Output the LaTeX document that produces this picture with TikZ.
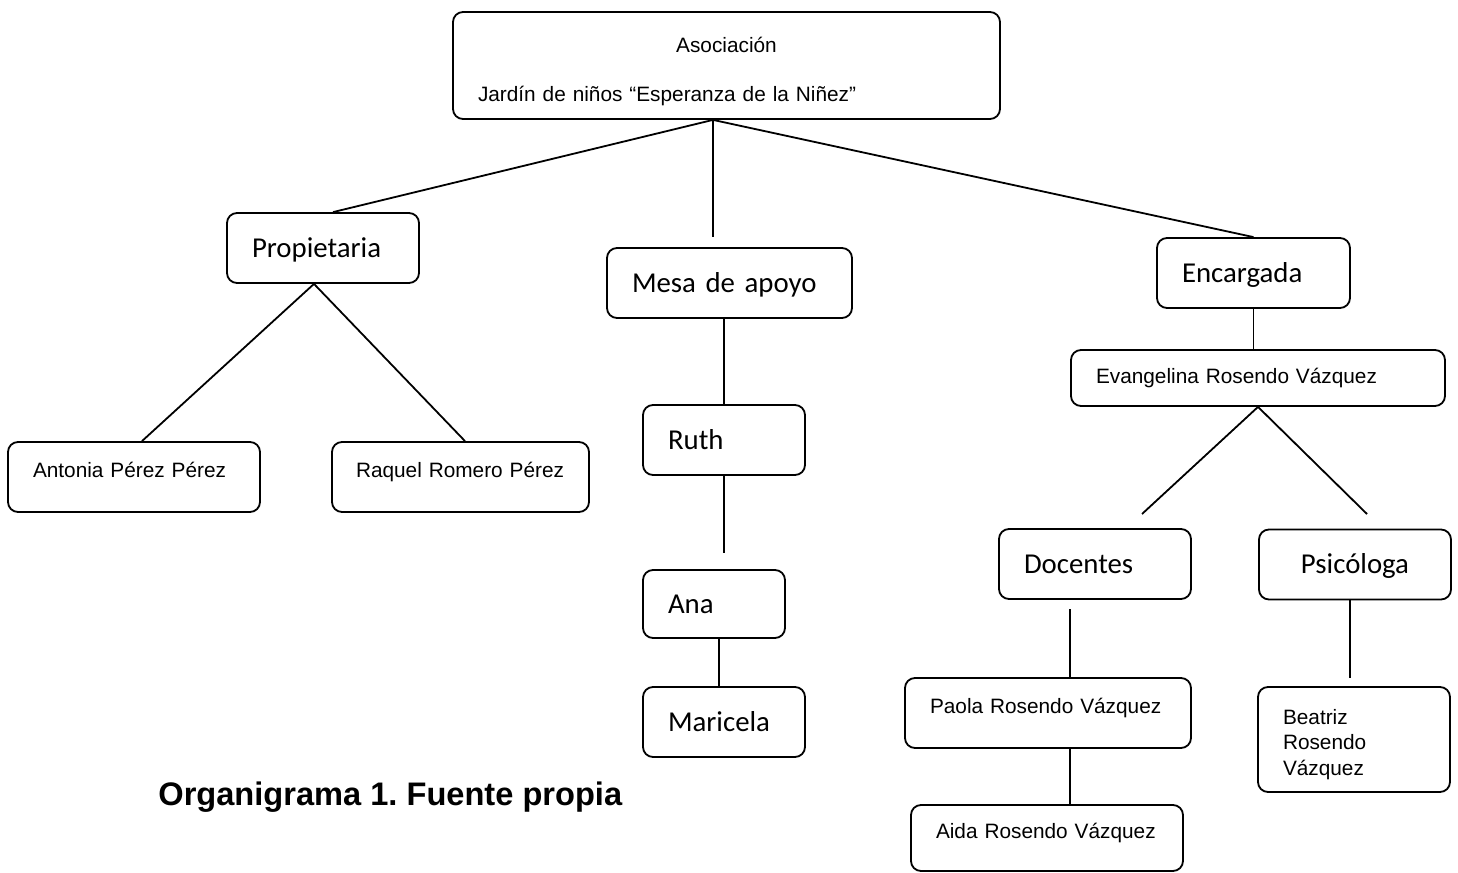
\documentclass[tikz,border=0pt]{standalone}
\usepackage{fontspec}
\setmainfont{Liberation Sans}
\newfontfamily\calibri{Carlito}
\usepackage{tikz}
\frenchspacing

\begin{document}
\begin{tikzpicture}[x=0.5pt,y=-0.5pt,
	cargo/.style={rectangle,draw,rounded corners=5pt,line width=0.9pt,align=left,inner xsep=12.5pt,minimum height=35pt,font=\calibri\fontsize{14.4}{17}\selectfont,text height=9.5pt,text depth=0.5pt},
	persona/.style={rectangle,draw,rounded corners=5pt,line width=0.9pt,align=left,inner xsep=12.5pt,minimum height=35pt,font=\fontsize{10.4}{12.8}\selectfont},
	alto/.style={text height=8pt,text depth=8pt},
	linea/.style={line width=0.9pt}]
	\useasboundingbox (0,0) rectangle (1458,873);
	\node[persona,text width=248.5pt,minimum height=53.5pt] (asoc) at (726.5,65.5) {\makebox[\hsize]{\rule{0pt}{13.5pt}Asociación}\\[12pt]Jardín de niños “Esperanza de la Niñez”};
	\node[cargo,text width=71pt] (prop) at (323,248) {Propietaria};
	\node[cargo,text width=97.5pt] (mesa) at (729.5,283) {Mesa de apoyo};
	\node[cargo,text width=71.5pt] (enc) at (1253.5,273) {Encargada};
	\node[persona,alto,text width=101pt] (anto) at (134,477) {Antonia Pérez Pérez};
	\node[persona,alto,inner xsep=12pt,text width=104.5pt] (raq) at (460.5,477) {Raquel Romero Pérez};
	\node[cargo,text width=56pt] (ruth) at (724,440) {Ruth};
	\node[cargo,text width=46pt,minimum height=34pt] (ana) at (714,604) {Ana};
	\node[cargo,text width=56pt] (mari) at (724,722) {Maricela};
	\node[persona,text width=162pt,minimum height=28pt] (evan) at (1258,378) {Evangelina Rosendo Vázquez};
	\node[cargo,text width=71pt] (doc) at (1095,564) {Docentes};
	\node[cargo,text width=71pt,align=center] (psi) at (1355,564.5) {Psicóloga};
	\node[persona,alto,text width=118pt] (paola) at (1048,713) {Paola Rosendo Vázquez};
	\node[persona,alto,text width=111pt,minimum height=33pt] (aida) at (1047,838) {Aida Rosendo Vázquez};
	\node[persona,text width=71pt,minimum height=52.5pt] (beat) at (1354,739.5) {\rule{0pt}{12.5pt}Beatriz\\Rosendo\\Vázquez};
	\node[font=\bfseries\fontsize{16.3}{19}\selectfont,anchor=west,inner sep=0pt] (pie) at (158,797) {Organigrama 1. Fuente propia};
	\coordinate (mesatop) at (713,237);
	\coordinate (ruthpie) at (724,553);
	\coordinate (docizq) at (1142,514);
	\coordinate (psider) at (1367,514);
	\coordinate (docpie) at (1070,609);
	\coordinate (psipie) at (1350,678);
	\draw[linea] ([xshift=-6.75pt]asoc.south) -- ([xshift=5pt]prop.north);
	\draw[linea] ([xshift=-6.75pt]asoc.south) -- (mesatop);
	\draw[linea] ([xshift=-6.75pt]asoc.south) -- (enc.north);
	\draw[linea] ([xshift=-4.5pt]prop.south) -- ([xshift=4pt]anto.north);
	\draw[linea] ([xshift=-4.5pt]prop.south) -- ([xshift=2.25pt]raq.north);
	\draw[linea] (ruth.north |- mesa.south) -- (ruth.north);
	\draw[linea] (ruth.south) -- (ruthpie);
	\draw[linea] ([xshift=2.5pt]ana.south) -- ([xshift=-2.5pt]mari.north);
	\draw[linea] (enc.south) -- (enc.south |- evan.north);
	\draw[linea] (evan.south) -- (docizq);
	\draw[linea] (evan.south) -- (psider);
	\draw[linea] (docpie) -- (docpie |- paola.north);
	\draw[linea] ([xshift=-2.5pt]psi.south) -- (psipie);
	\draw[linea] ([xshift=11pt]paola.south) -- ([xshift=11.5pt]aida.north);
\end{tikzpicture}
\end{document}
